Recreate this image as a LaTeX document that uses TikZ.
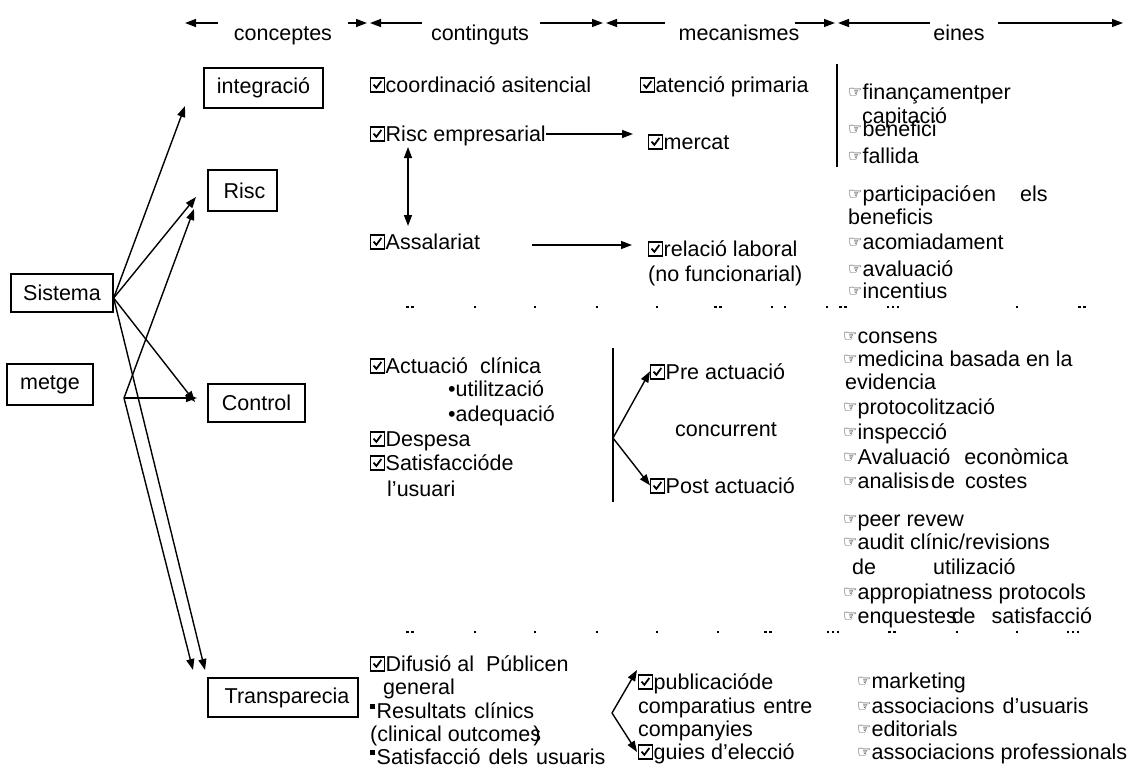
\documentclass[tikz,border=0pt]{standalone}
\usepackage{fontspec}
\setmainfont{Liberation Sans}
\newfontfamily\dvsans{DejaVu Sans}
\usetikzlibrary{arrows.meta}
% ticked box and pointing hand used in the lists
\newcommand\chk{\tikz[baseline=0pt,x=1pt,y=1pt,line cap=butt]{%
  \draw[line width=1.1pt] (0.6,0) rectangle (14,14);
  \draw[line width=1.8pt,line join=miter] (3.4,7.4) -- (6.2,4.2) -- (11.2,11);}\hspace{1pt}}
\newcommand\hnd{{\dvsans\fontsize{16}{16}\selectfont\raisebox{2pt}{☞}}}
\newcommand\sqb{\raisebox{9pt}{\rule{5pt}{5pt}}\hspace{1.5pt}}
\newcommand\dotrow[2]{%
  \foreach \x/\n in {#2}{%
    \foreach \k in {1,...,\n}{%
      \fill (\x+\k*5-\n*2.5-2.5-1.4,#1-1.4) rectangle ++(2.8,2.8);}}}
\begin{document}
\begin{tikzpicture}[x=1pt,y=-1pt,
  txt/.style={anchor=base west,inner sep=0pt,font=\fontsize{21.5}{25}\selectfont},
  head/.style={anchor=base,inner sep=0pt,font=\fontsize{21.5}{25}\selectfont},
  box/.style={draw,line width=1.3pt,inner sep=0pt,font=\fontsize{21.5}{25}\selectfont},
  arr/.style={line width=1.4pt,-{Triangle[length=11pt,width=8pt]}},
  darr/.style={line width=1.4pt,{Triangle[length=11pt,width=8pt]}-{Triangle[length=11pt,width=8pt]}},
  rule/.style={line width=1.6pt}]
\useasboundingbox[fill=white] (0,0) rectangle (1132,769);

% column headings
\node[head] (hConc) at (283,40) {conceptes};
\node[head] (hCont) at (480,40) {continguts};
\node[head] (hMec) at (739,40) {mecanismes};
\node[head] (hEin) at (959,40) {eines};
\draw[arr] (218,23) -- (185,23);
\draw[arr] (348,23) -- (367,23);
\draw[arr] (422,23) -- (370,23);
\draw[arr] (540,23) -- (603,23);
\draw[arr] (665,23) -- (606,23);
\draw[arr] (795,23) -- (835,23);
\draw[arr] (930,23) -- (838,23);
\draw[arr] (998,23) -- (1123,23);

% concept boxes
\node[box,minimum width=119pt,minimum height=40pt] (integ) at (263.5,88) {integració};
\node[box,minimum width=69pt,minimum height=41pt] (risc) at (242.5,190.5) {\hspace{4pt}Risc};
\node[box,minimum width=102pt,minimum height=38pt] (sist) at (62,293) {Sistema};
\node[box,minimum width=86pt,minimum height=41pt] (metge) at (50,384.5) {metge};
\node[box,minimum width=97pt,minimum height=38pt] (ctrl) at (256.5,403) {Control};
\node[box,minimum width=150pt,minimum height=39pt] (transp) at (283,697.5) {\hspace{8pt}Transparecia};

% fan of arrows towards the concepts
\coordinate (sS) at ([yshift=-5pt]sist.east);
\coordinate (mS) at (124,398);
\coordinate (tInt) at (185,106);
\coordinate (tRisc1) at (196,197);
\coordinate (tRisc2) at (194,209);
\coordinate (tCtl1) at (195,402);
\coordinate (tCtl2) at (197,398);
\coordinate (tTr1) at (205,670);
\coordinate (tTr2) at (193,670);
\draw[arr] (sS) -- (tInt);
\draw[arr] (sS) -- (tRisc1);
\draw[arr] (sS) -- (tCtl1);
\draw[arr] (sS) -- (tTr1);
\draw[arr] (mS) -- (tRisc2);
\draw[arr] (mS) -- (tCtl2);
\draw[arr] (mS) -- (tTr2);

% integració / risc
\node[txt] (coord) at (370,92) {\chk coordinació asitencial};
\node[txt] (aten) at (640,92) {\chk atenció primaria};
\node[txt] (fin) at (848,99) {\hnd finançamentper};
\node[txt] (cap) at (862,123) {capitació};
\node[txt] (ben) at (848,136) {\hnd benefici};
\node[txt] (fal) at (848,163) {\hnd fallida};
\draw[rule] (837,64) -- (837,167);
\node[txt] (riscEmp) at (370,141) {\chk Risc empresarial};
\node[txt] (merc) at (648,149) {\chk mercat};
\node[txt] (part) at (848,201) {\hnd participació\hspace{1pt}en\hspace{24pt}els};
\node[txt] (bens) at (848,224) {beneficis};
\node[txt] (assal) at (370,249) {\chk Assalariat};
\node[txt] (rel) at (648,256) {\chk relació laboral};
\node[txt] (nofun) at (648,281) {(no funcionarial)};
\node[txt] (acom) at (848,249) {\hnd acomiadament};
\node[txt] (aval) at (848,276) {\hnd avaluació};
\node[txt] (inc) at (848,298) {\hnd incentius};
\coordinate (tMerc) at (633,134);
\coordinate (sRel) at (532,245);
\coordinate (tRel) at (632,245);
\draw[arr] (riscEmp.east |- tMerc) -- (tMerc);
\draw[arr] (sRel) -- (tRel);
\draw[darr] (408,147) -- (408,226);

\dotrow{307}{410/2,475/1,535/1,597/1,657/1,718/2,772/1,785/1,827/1,843/2,893/3,1017/1,1082/2}

% control
\node[txt] (act) at (370,373) {\chk Actuació\hspace{12pt}clínica};
\node[txt] (util) at (448,396) {\textbullet utilització};
\node[txt] (adeq) at (448,421) {\textbullet adequació};
\node[txt] (desp) at (370,446) {\chk Despesa};
\node[txt] (satis) at (370,470) {\chk Satisfaccióde};
\node[txt] (usu) at (387,496) {l’usuari};
\node[txt] (pre) at (650,379) {\chk Pre actuació};
\node[txt] (conc) at (675,436) {concurrent};
\node[txt] (post) at (650,493) {\chk Post actuació};
\draw[rule] (613,348) -- (613,502);
\coordinate (fork) at (613,438);
\draw[arr] (fork) -- (pre.west);
\draw[arr] (fork) -- (post.west);
\node[txt] (cons) at (843,343) {\hnd consens};
\node[txt] (med) at (843,366) {\hnd medicina basada en la};
\node[txt] (evid) at (845,389) {evidencia};
\node[txt] (prot) at (843,414) {\hnd protocolització};
\node[txt] (insp) at (843,439) {\hnd inspecció};
\node[txt] (avec) at (843,464) {\hnd Avaluació\hspace{14pt}econòmica};
\node[txt] (anal) at (843,488) {\hnd analisis\hspace{2pt}de\hspace{10pt}costes};
\node[txt] (peer) at (843,526) {\hnd peer revew};
\node[txt] (audit) at (843,549) {\hnd audit\hspace{6pt}clínic/revisions};
\node[txt] (de) at (852,574) {de};
\node[txt] (utz) at (933,574) {utilizació};
\node[txt] (appr) at (843,599) {\hnd appropiatness protocols};
\node[txt] (enq) at (843,623) {\hnd enquestes\hspace{-5pt}de\hspace{16pt}satisfacció};

\dotrow{632}{410/2,475/1,535/1,597/1,657/1,718/1,768/2,833/3,892/2,957/1,1017/1,1073/3}

% transparència
\node[txt] (dif) at (370,671) {\chk Difusió al\hspace{12pt}Públicen};
\node[txt] (gen) at (383,694) {general};
\node[txt] (res) at (370,718) {\sqb Resultats\hspace{8pt}clínics};
\node[txt] (clin) at (370,741) {(clinical outcome\rlap{s}\hspace{3pt})};
\node[txt] (satu) at (370,764) {\sqb Satisfacció\hspace{8pt}dels\hspace{8pt}usuaris};
\node[txt] (pub) at (638,689) {\chk publicacióde};
\node[txt] (comp) at (638,713) {comparatius\hspace{8pt}entre};
\node[txt] (compy) at (638,736) {companyies};
\node[txt] (guies) at (638,759) {\chk guies d’elecció};
\coordinate (fork2) at (612,713);
\coordinate (tPub) at (637,670);
\coordinate (tGui) at (637,752);
\draw[arr] (fork2) -- (tPub);
\draw[arr] (fork2) -- (tGui);
\node[txt] (mark) at (857,688) {\hnd marketing};
\node[txt] (assu) at (857,713) {\hnd associacions\hspace{8pt}d’usuaris};
\node[txt] (edit) at (857,736) {\hnd editorials};
\node[txt] (assp) at (857,759) {\hnd associacions professionals};
\end{tikzpicture}
\end{document}
